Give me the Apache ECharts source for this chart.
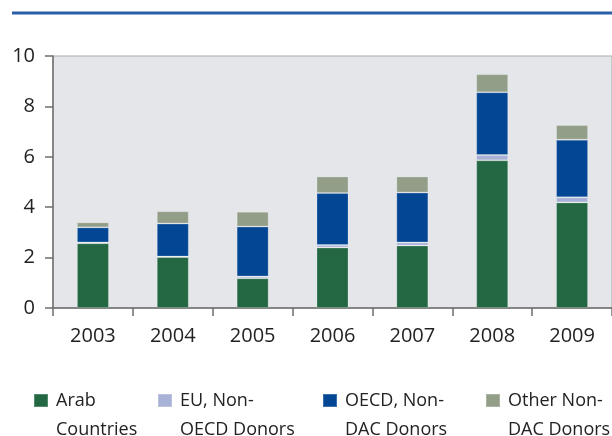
<!DOCTYPE html>
<html>
<head>
<meta charset="utf-8">
<script src="https://cdn.jsdelivr.net/npm/echarts@6/dist/echarts.min.js"></script>
<style>
  html, body { margin: 0; padding: 0; background: #fff; }
  #demo { width: 612px; height: 436px; }
</style>
</head>
<body>
<div id="demo"></div>
<script>
// data
var years = ['2003', '2004', '2005', '2006', '2007', '2008', '2009'];
var seriesNames = ['Arab Countries', 'EU, Non-OECD Donors', 'OECD, Non-DAC Donors', 'Other Non-DAC Donors'];
var legendLines = ['Arab\nCountries', 'EU, Non-\nOECD Donors', 'OECD, Non-\nDAC Donors', 'Other Non-\nDAC Donors'];
var arab = [2.57, 2.02, 1.18, 2.40, 2.48, 5.86, 4.19];
var euNonOecd = [0.03, 0.02, 0.07, 0.10, 0.12, 0.21, 0.20];
var oecdNonDac = [0.60, 1.31, 1.98, 2.06, 1.98, 2.49, 2.29];
var otherNonDac = [0.20, 0.49, 0.59, 0.66, 0.64, 0.72, 0.58];
var yTicks = [0, 10, 2];

var colors = ['#236843', '#a8b1d6', '#034694', '#939e88'];
var font = '"Open Sans", "Liberation Sans", sans-serif';

var mychar = echarts.init(document.getElementById('demo'));

var values = [arab, euNonOecd, oecdNonDac, otherNonDac];
var series = [];
for (var i = 0; i < seriesNames.length; i++) {
    series.push({
        name: seriesNames[i],
        type: 'bar',
        stack: 'total',
        barWidth: 32,
        data: values[i],
        itemStyle: {
            color: colors[i],
            borderColor: 'rgba(255,255,255,0.22)',
            borderWidth: 1
        }
    });
}

// one legend per item, the gaps in the picture are uneven
var legendLeft = [33, 157, 322, 485];
var legends = [];
for (var j = 0; j < seriesNames.length; j++) {
    legends.push({
        left: legendLeft[j],
        top: 357,
        padding: 0,
        icon: 'rect',
        itemWidth: 14,
        itemHeight: 13,
        selectedMode: false,
        data: [seriesNames[j]],
        formatter: (function (k) {
            return function () { return '\n' + legendLines[k]; };
        })(j),
        textStyle: {
            fontFamily: font,
            fontSize: 18,
            lineHeight: 29,
            color: '#222',
            padding: [0, 0, 0, 3]
        }
    });
}

mychar.setOption({
    animation: false,
    color: colors,
    grid: {
        left: 53,
        top: 56,
        width: 567,
        bottom: 128,
        show: true,
        backgroundColor: '#e4e6e9',
        borderColor: '#ababab',
        borderWidth: 1
    },
    legend: legends,
    xAxis: {
        type: 'category',
        data: years,
        boundaryGap: true,
        axisLine: { lineStyle: { color: '#6e6e6e', width: 1.5 } },
        axisTick: { show: true, length: 8, lineStyle: { color: '#6e6e6e', width: 1.5 } },
        axisLabel: { fontFamily: font, fontSize: 20, color: '#222', margin: 18 }
    },
    yAxis: {
        type: 'value',
        min: yTicks[0],
        max: yTicks[1],
        interval: yTicks[2],
        splitLine: { show: false },
        axisLine: { show: true, lineStyle: { color: '#6e6e6e', width: 1.5 } },
        axisTick: { show: true, length: 8, lineStyle: { color: '#6e6e6e', width: 1.5 } },
        axisLabel: { fontFamily: font, fontSize: 20, color: '#222', margin: 18 }
    },
    graphic: [{
        type: 'line',
        shape: { x1: 12, y1: 13, x2: 612, y2: 13 },
        style: { stroke: '#2a5fa8', lineWidth: 3 }
    }],
    series: series
});
</script>
</body>
</html>
